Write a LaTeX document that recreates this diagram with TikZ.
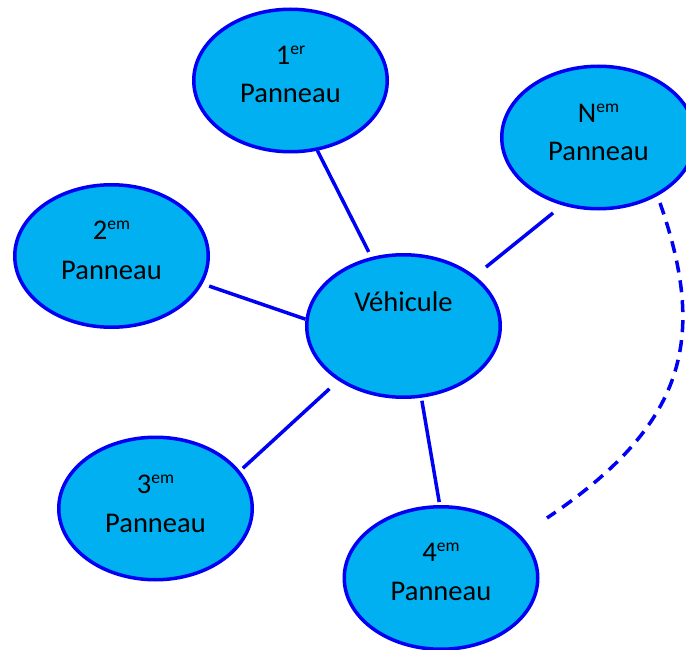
\documentclass[tikz,border=0pt]{standalone}
\usepackage{fontspec}
\setmainfont{Carlito}
\usetikzlibrary{shapes.geometric,calc}
\definecolor{fillblue}{RGB}{0,176,240}
\definecolor{edgeblue}{RGB}{0,0,245}
\newcommand\expo[1]{\raisebox{10pt}{\fontsize{17.5}{17.5}\selectfont #1}}
\begin{document}
\begin{tikzpicture}[x=1pt,y=-1pt,
  bubble/.style={ellipse, draw=edgeblue, fill=fillblue, line width=3.5pt,
    minimum width=193.5pt, minimum height=142.5pt, inner sep=0pt},
  link/.style={draw=edgeblue, line width=3.5pt},
  lbl/.style={anchor=base, inner sep=0pt, font=\fontsize{28.5}{30}\selectfont, text=black}]
\useasboundingbox (0,0) rectangle (686,650);
% bubbles
\node[bubble] (e1) at (290.5,80.5) {};
\node[bubble] (en) at (598.5,137.5) {};
\node[bubble] (e2) at (111.5,256) {};
\node[bubble] (v)  at (403.5,326) {};
\node[bubble] (e3) at (155.5,508.5) {};
\node[bubble] (e4) at (441,578) {};
% connectors
\draw[link, shorten >=5.7pt] (e1.-69.7) -- (v.115.9);
\draw[link, shorten <=7pt] (e2.-17.5) -- (v.176.5);
\draw[link, shorten <=4pt, shorten >=12pt] (e3.24.1) -- (v.220.85);
\draw[link, shorten <=12pt, shorten >=14pt] (en.242) -- (v.35.5);
\draw[link, shorten <=3pt, shorten >=3pt] (v.-76.5) -- (e4.91.2);
% dashed arc
\coordinate (dA) at (660,203);
\coordinate (dB) at (547,518);
\draw[link, dash pattern=on 12pt off 8pt] (dA) .. controls (708,340) and (685,425) .. (dB);
% labels
\node[lbl] (t1a) at ($(e1.center)+(0,-15.5)$) {1\expo{er}};
\node[lbl] (t1b) at ($(e1.center)+(0,22.5)$) {Panneau};
\node[lbl] (tna) at ($(en.center)+(0,-14.5)$) {N\expo{em}};
\node[lbl] (tnb) at ($(en.center)+(0,23.5)$) {Panneau};
\node[lbl] (t2a) at ($(e2.center)+(0,-16)$) {2\expo{em}};
\node[lbl] (t2b) at ($(e2.center)+(0,23)$) {Panneau};
\node[lbl] (t3a) at ($(e3.center)+(0,-15.2)$) {3\expo{em}};
\node[lbl] (t3b) at ($(e3.center)+(0,23.8)$) {Panneau};
\node[lbl] (t4a) at ($(e4.center)+(0,-16.3)$) {4\expo{em}};
\node[lbl] (t4b) at ($(e4.center)+(0,22)$) {Panneau};
\node[lbl] (tv) at ($(v.center)+(0,-14.3)$) {Véhicule};
\end{tikzpicture}
\end{document}
